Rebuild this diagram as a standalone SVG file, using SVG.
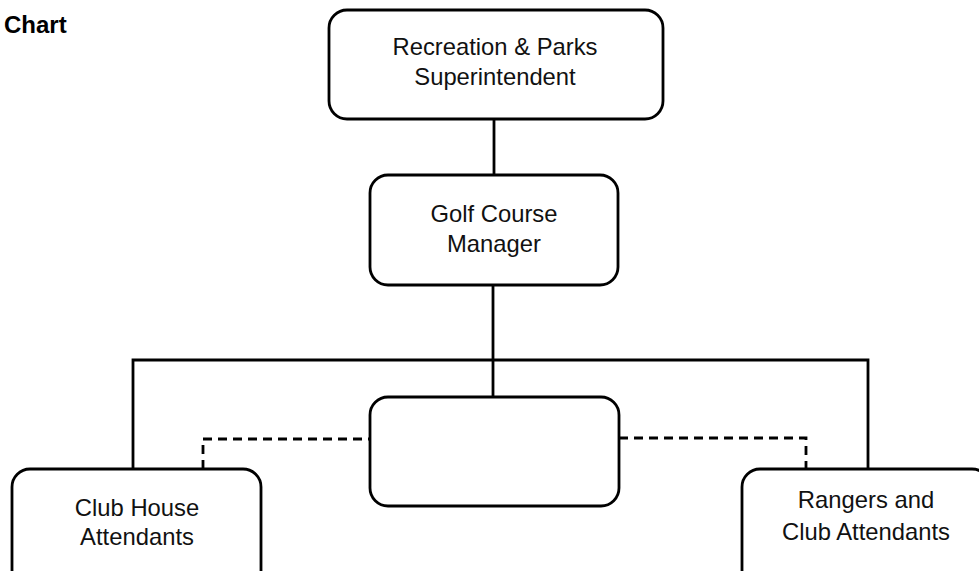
<svg xmlns="http://www.w3.org/2000/svg" width="979" height="571" viewBox="0 0 979 571">
<style>
.box{fill:#fff;stroke:#000;stroke-width:2.8}
.ln{fill:none;stroke:#000;stroke-width:2.8}
.dash{fill:none;stroke:#000;stroke-width:2.8;stroke-dasharray:9 6}
.t{font-family:"Liberation Sans",Arial,sans-serif;font-size:23.8px;fill:#111;text-anchor:middle}
.title{font-family:"Liberation Sans",Arial,sans-serif;font-size:24px;font-weight:bold;fill:#000}
</style>
<rect width="979" height="571" fill="#fff"/>
<text class="title" x="4" y="33">Chart</text>
<g id="connectors">
<path class="ln" d="M494 119V176"/>
<path class="ln" d="M493 285V397"/>
<path class="ln" d="M133 469V360H868V469"/>
<path class="dash" d="M203 469V439H370"/>
<path class="dash" d="M619 438H806V469"/>
</g>
<g id="superintendent">
<rect class="box" x="329" y="10" width="334" height="109" rx="18"/>
<text class="t" x="495" y="55">Recreation &amp; Parks</text>
<text class="t" x="495" y="85">Superintendent</text>
</g>
<g id="manager">
<rect class="box" x="370" y="175" width="248" height="110" rx="18"/>
<text class="t" x="494" y="222">Golf Course</text>
<text class="t" x="494" y="252">Manager</text>
</g>
<g id="center">
<rect class="box" x="370" y="397" width="249" height="109" rx="18"/>
</g>
<g id="clubhouse">
<rect class="box" x="12" y="469" width="249" height="120" rx="18"/>
<text class="t" x="137" y="516">Club House</text>
<text class="t" x="137" y="545">Attendants</text>
</g>
<g id="rangers">
<rect class="box" x="742" y="469" width="248" height="120" rx="18"/>
<text class="t" x="866" y="508">Rangers and</text>
<text class="t" x="866" y="540">Club Attendants</text>
</g>
</svg>
